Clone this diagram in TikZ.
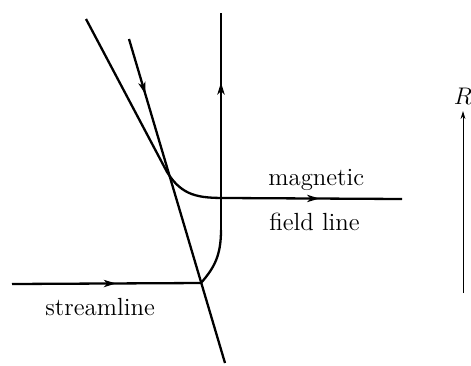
\documentclass[tikz,border=0pt]{standalone}
\usepackage{fontspec}
\usepackage{tikz}
\usetikzlibrary{arrows.meta,decorations.markings}

\begin{document}
\begin{tikzpicture}[x=0.5pt,y=-0.5pt,
  curve/.style={line width=1.15pt},
  midarrow/.style={postaction={decorate},decoration={markings,
    mark=at position #1 with {\arrow{Stealth[length=6pt,width=3.6pt,inset=1.6pt]}}}},
  lbl/.style={font=\fontsize{12.4}{15}\selectfont,inner sep=0pt}]
\useasboundingbox (0,0) rectangle (471,365);
\coordinate (fa) at (86,19);
\coordinate (fb) at (167,172);
\coordinate (fm) at (226,198);
\coordinate (fc) at (402,199);
\coordinate (ba) at (129,39);
\coordinate (bb) at (225,363);
\coordinate (sa) at (12,284);
\coordinate (sb) at (201,283);
\coordinate (sm) at (221,230);
\coordinate (sc) at (221,13);
\coordinate (ra) at (463,293);
\coordinate (rb) at (463,111);
\draw[curve](fa)--(fb) .. controls (182,196) and (198,198) .. (fm);
\draw[curve,midarrow=0.53](fm)--(fc);
\draw[curve,midarrow=0.17](ba)--(bb);
\draw[curve,midarrow=0.55](sa)--(sb);
\draw[curve](sb) .. controls (214,268) and (221,256) .. (sm);
\draw[curve,midarrow=0.68](sm)--(sc);
\draw[line width=0.5pt,-{Stealth[length=4pt,width=2.4pt]}](ra)--(rb);
\node[lbl,anchor=base] (rlab) at (463,104) {$R$};
\node[lbl,anchor=base west] (mag) at (268,185) {magnetic};
\node[lbl,anchor=base west] (fld) at (269,230) {field line};
\node[lbl,anchor=base west] (str) at (45,315) {streamline};
\end{tikzpicture}
\end{document}
